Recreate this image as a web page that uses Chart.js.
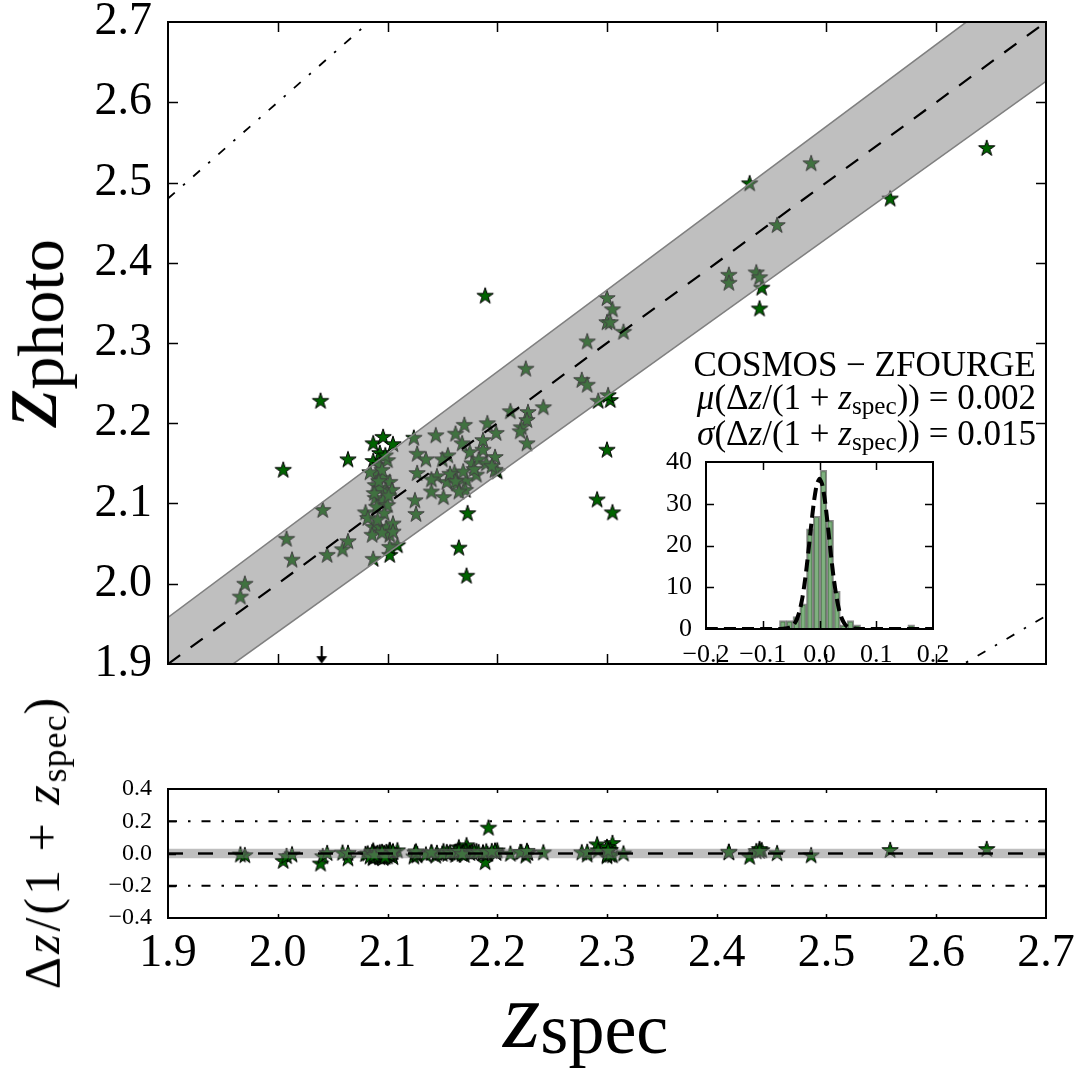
<!DOCTYPE html>
<html>
<head>
<meta charset="utf-8">
<title>z_photo vs z_spec</title>
<script src="https://cdn.jsdelivr.net/npm/chart.js@4.4.1/dist/chart.umd.min.js"></script>
<style>
html, body { margin:0; padding:0; background:#ffffff; }
body { width:1083px; height:1075px; position:relative; overflow:hidden; }
canvas { position:absolute; }
.t { position:absolute; white-space:nowrap; color:#000; font-family:'Liberation Serif', serif; line-height:1; }
.t i { font-style:italic; }
.sub { font-size:0.72em; position:relative; top:0.2em; }
.rot { transform: translate(-50%, -50%) rotate(-90deg); }
</style>
</head>
<body>
<canvas id="mainChart" width="1083" height="680" style="left:0;top:0"></canvas>
<canvas id="resChart" width="1083" height="315" style="left:0;top:760px"></canvas>
<canvas id="histChart" width="310" height="235" style="left:640px;top:440px"></canvas>

<div class="t rot" style="left:24px;top:333px;font-size:96px"><i>z</i><span class="sub" style="font-size:66px;top:0.1em">photo</span></div>
<div class="t rot" style="left:42px;top:842px;font-size:50px;letter-spacing:3px">Δ<i>z</i>/(1 + <i>z</i><span class="sub" style="letter-spacing:1px">spec</span>)</div>
<div class="t" style="left:503px;top:967px;font-size:96px"><i>z</i><span class="sub" style="font-size:72px;top:0.08em">spec</span></div>

<div class="t" style="right:47px;top:348px;font-size:35px;line-height:33px;text-align:right">
COSMOS − ZFOURGE<br>
<i>μ</i>(Δ<i>z</i>/(1 + <i>z</i><span class="sub">spec</span>)) = 0.002<br>
<i>σ</i>(Δ<i>z</i>/(1 + <i>z</i><span class="sub">spec</span>)) = 0.015
</div>

<script>
// ---------------- data ----------------
const zSpec = [
  2.005, 2.039, 2.064, 2.087, 2.096, 2.105, 2.087, 2.093, 2.189, 2.173,
  2.165, 2.172, 2.291, 2.305, 2.300, 2.292, 2.303, 2.430, 2.441, 2.439,
  2.558, 2.646, 2.109, 2.102, 2.087, 2.200, 1.970, 1.966, 2.008, 2.013,
  2.041, 2.045, 2.059, 2.064, 2.124, 2.144, 2.162, 2.170, 2.191, 2.199,
  2.127, 2.127, 2.145, 2.155, 2.161, 2.154, 2.163, 2.175, 2.177, 2.172,
  2.181, 2.187, 2.187, 2.198, 2.198, 2.171, 2.125, 2.126, 2.151, 2.093,
  2.100, 2.090, 2.096, 2.102, 2.089, 2.098, 2.104, 2.089, 2.096, 2.100,
  2.090, 2.080, 2.082, 2.087, 2.093, 2.099, 2.086, 2.102, 2.102, 2.084,
  2.093, 2.095, 2.092, 2.101, 2.097, 2.091, 2.105, 2.095, 2.098, 2.088,
  2.105, 2.226, 2.282, 2.277, 2.282, 2.242, 2.212, 2.228, 2.227, 2.222,
  2.221, 2.227, 2.300, 2.305, 2.300, 2.303, 2.315, 2.301, 2.411, 2.411,
  2.436, 2.439, 2.486, 2.455, 2.150, 2.157, 2.162, 2.169, 2.179, 2.183,
  2.190, 2.165, 2.140, 2.135, 2.168, 2.195, 2.140, 2.192
];
const zPhoto = [
  2.142, 2.228, 2.155, 2.175, 2.183, 2.174, 2.153, 2.163, 2.359, 2.088,
  2.045, 2.010, 2.105, 2.089, 2.167, 2.228, 2.229, 2.499, 2.369, 2.343,
  2.480, 2.543, 2.048, 2.036, 2.031, 2.140, 2.000, 1.984, 2.056, 2.030,
  2.092, 2.036, 2.043, 2.053, 2.182, 2.185, 2.187, 2.198, 2.200, 2.188,
  2.162, 2.138, 2.134, 2.160, 2.139, 2.127, 2.125, 2.164, 2.150, 2.129,
  2.136, 2.167, 2.179, 2.158, 2.142, 2.117, 2.104, 2.087, 2.108, 2.148,
  2.154, 2.136, 2.132, 2.127, 2.123, 2.117, 2.117, 2.107, 2.104, 2.098,
  2.096, 2.089, 2.082, 2.071, 2.071, 2.070, 2.061, 2.061, 2.046, 2.139,
  2.119, 2.142, 2.128, 2.110, 2.088, 2.080, 2.075, 2.064, 2.160, 2.113,
  2.065, 2.268, 2.302, 2.254, 2.248, 2.220, 2.215, 2.214, 2.204, 2.195,
  2.190, 2.175, 2.356, 2.342, 2.326, 2.326, 2.314, 2.235, 2.385, 2.375,
  2.388, 2.382, 2.524, 2.447, 2.155, 2.137, 2.128, 2.140, 2.143, 2.155,
  2.150, 2.115, 2.130, 2.155, 2.175, 2.147, 2.115, 1.680
];
const upperLimitX = [2.04];
const upperLimitY = [1.911];

const histBinCenters = [-0.0646, -0.0527, -0.0408, -0.0289, -0.0170, -0.0051, 0.0069, 0.0188, 0.0307, 0.0426,
                        0.0545, 0.0664, 0.0783, 0.0902, 0.1021, 0.1140, 0.1259, 0.1378, 0.1497, 0.1616];
const histCounts = [2, 2, 3, 6, 24, 27, 38, 26, 9, 1, 2, 1, 0, 0, 0, 0, 0, 0, 0, 1];

const fitCurveX = [-0.2, -0.07, -0.06, -0.05, -0.045, -0.04, -0.035, -0.03, -0.025, -0.02, -0.015, -0.01, -0.005, 0,
                   0.005, 0.01, 0.015, 0.02, 0.025, 0.03, 0.035, 0.04, 0.045, 0.05, 0.06, 0.07, 0.2];
const fitCurveY = [0, 0, 0.1, 0.5, 1.1, 2.3, 4.3, 7.6, 12.2, 18.0, 24.4, 30.3, 34.5, 36,
                   34.5, 30.3, 24.4, 18.0, 12.2, 7.6, 4.3, 2.3, 1.1, 0.5, 0.1, 0, 0];

const axisRange = [1.9, 2.7];
const mainTicks = ['1.9', '2.0', '2.1', '2.2', '2.3', '2.4', '2.5', '2.6', '2.7'];
const bandFraction = 0.02;      // shaded band: |dz| < 0.02 (1+z)
const outlierFraction = 0.2;    // dash-dot lines: |dz| = 0.2 (1+z)
const residBand = 0.03;
const residLimits = [0.2, -0.2];

// ---------------- helpers ----------------
Chart.defaults.font.family = "'Liberation Serif', serif";
Chart.defaults.color = '#000';

function makeStar(R, fill, stroke, lw) {
  const s = Math.ceil(2 * R + 2 * lw + 2);
  const c = document.createElement('canvas');
  c.width = s; c.height = s;
  const g = c.getContext('2d');
  const cx = s / 2, cy = s / 2 + 0.5, r = R * 0.382;
  g.beginPath();
  for (let i = 0; i < 10; i++) {
    const a = -Math.PI / 2 + i * Math.PI / 5;
    const rr = (i % 2) ? r : R;
    g.lineTo(cx + rr * Math.cos(a), cy + rr * Math.sin(a));
  }
  g.closePath();
  g.fillStyle = fill; g.fill();
  g.lineWidth = lw; g.strokeStyle = stroke; g.lineJoin = 'miter'; g.stroke();
  return c;
}
function makeArrow() {
  const c = document.createElement('canvas');
  c.width = 14; c.height = 18;
  const g = c.getContext('2d');
  g.strokeStyle = '#000'; g.fillStyle = '#000'; g.lineWidth = 2.2;
  g.beginPath(); g.moveTo(7, 0); g.lineTo(7, 12); g.stroke();
  g.beginPath(); g.moveTo(1.5, 10); g.lineTo(12.5, 10); g.lineTo(7, 17.5); g.closePath(); g.fill();
  return c;
}
const starImg = makeStar(8.6, '#006400', '#000000', 1);
const arrowImg = makeArrow();

const frameTicks = {
  id: 'frameTicks',
  beforeDatasetsDraw(chart, args, o) {
    if (!o.bg) return;
    const a = chart.chartArea, ctx = chart.ctx;
    ctx.save(); ctx.fillStyle = o.bg;
    ctx.fillRect(a.left, a.top, a.right - a.left, a.bottom - a.top);
    ctx.restore();
  },
  afterDraw(chart, args, o) {
    const a = chart.chartArea, ctx = chart.ctx;
    const xs = chart.scales.x, ys = chart.scales.y;
    ctx.save();
    ctx.strokeStyle = '#000';
    ctx.lineWidth = o.tickWidth || 1.5;
    ctx.beginPath();
    xs.ticks.forEach(t => {
      const p = Math.round(xs.getPixelForValue(t.value)) + 0.5;
      if (p <= a.left + 2 || p >= a.right - 2) return;
      ctx.moveTo(p, a.bottom); ctx.lineTo(p, a.bottom - o.xLen);
      ctx.moveTo(p, a.top); ctx.lineTo(p, a.top + o.xLen);
    });
    ys.ticks.forEach(t => {
      const p = Math.round(ys.getPixelForValue(t.value)) + 0.5;
      if (p <= a.top + 2 || p >= a.bottom - 2) return;
      ctx.moveTo(a.left, p); ctx.lineTo(a.left + o.yLen, p);
      ctx.moveTo(a.right, p); ctx.lineTo(a.right - o.yLen, p);
    });
    ctx.stroke();
    ctx.lineWidth = o.frameWidth || 2;
    ctx.strokeRect(a.left, a.top, a.right - a.left, a.bottom - a.top);
    ctx.restore();
  }
};

const fmt = v => (Math.abs(v) < 1e-9 ? 0 : v).toFixed(1).replace('-', '\u2212');

// ---------------- main panel ----------------
const galaxyPts = zSpec.map((z, i) => ({ x: z, y: zPhoto[i] }));
const lineLine = (f) => axisRange.map(x => ({ x: x, y: f(x) }));
const dashDot = [9, 11, 2.5, 11];

new Chart(document.getElementById('mainChart'), {
  type: 'line',
  data: {
    datasets: [
      { label: 'galaxies', data: galaxyPts, showLine: false, pointStyle: starImg, pointRadius: 8, order: 3 },
      { label: 'band upper', data: lineLine(x => x + bandFraction * (1 + x)), borderColor: '#808080', borderWidth: 1.6,
        pointRadius: 0, fill: false, order: 2 },
      { label: 'band lower', data: lineLine(x => x - bandFraction * (1 + x)), borderColor: '#808080', borderWidth: 1.6,
        pointRadius: 0, fill: '-1', backgroundColor: 'rgba(128,128,128,0.5)', order: 2 },
      { label: 'one-to-one', data: lineLine(x => x), borderColor: '#000', borderWidth: 2.2, borderDash: [15, 13],
        pointRadius: 0, fill: false, order: 1 },
      { label: 'outlier upper', data: lineLine(x => x + outlierFraction * (1 + x)), borderColor: '#000', borderWidth: 1.8,
        borderDash: dashDot, pointRadius: 0, fill: false, order: 1 },
      { label: 'outlier lower', data: lineLine(x => x - outlierFraction * (1 + x)), borderColor: '#000', borderWidth: 1.8,
        borderDash: dashDot, pointRadius: 0, fill: false, order: 1 },
      { label: 'upper limit', data: upperLimitX.map((x, i) => ({ x: x, y: upperLimitY[i] })), showLine: false,
        pointStyle: arrowImg, pointRadius: 8, clip: false, order: 0 }
    ]
  },
  options: {
    responsive: false, animation: false, events: [],
    layout: { padding: { left: 0, right: 37, top: 22, bottom: 0 } },
    plugins: { legend: { display: false }, tooltip: { enabled: false },
      frameTicks: { xLen: 10, yLen: 10, tickWidth: 1.5, frameWidth: 2 } },
    scales: {
      x: { type: 'linear', min: axisRange[0], max: axisRange[1],
        ticks: { display: false, stepSize: 0.1 }, grid: { display: false }, border: { display: false },
        afterFit(s) { s.height = 16; s.paddingLeft = 0; s.paddingRight = 0; } },
      y: { type: 'linear', min: axisRange[0], max: axisRange[1],
        ticks: { stepSize: 0.1, padding: 8, font: { size: 46 }, callback: (v, i) => mainTicks[i] !== undefined ? fmt(v) : '' },
        grid: { display: false }, border: { display: false },
        afterFit(s) { s.width = 168; s.paddingTop = 0; s.paddingBottom = 0; } }
    }
  },
  plugins: [frameTicks]
});

// ---------------- residual panel ----------------
const residPts = zSpec.map((z, i) => ({ x: z, y: (z - zPhoto[i]) / (1 + z) }));
const flat = (v) => axisRange.map(x => ({ x: x, y: v }));

new Chart(document.getElementById('resChart'), {
  type: 'line',
  data: {
    datasets: [
      { label: 'residuals', data: residPts, showLine: false, pointStyle: starImg, pointRadius: 8, order: 3 },
      { label: 'band upper', data: flat(residBand), borderWidth: 0, borderColor: 'rgba(0,0,0,0)', pointRadius: 0, fill: false, order: 2 },
      { label: 'band lower', data: flat(-residBand), borderWidth: 0, borderColor: 'rgba(0,0,0,0)', pointRadius: 0,
        fill: '-1', backgroundColor: 'rgba(128,128,128,0.5)', order: 2 },
      { label: 'zero', data: flat(0), borderColor: '#000', borderWidth: 2.4, borderDash: [15, 15], pointRadius: 0, fill: false, order: 1 },
      { label: 'limit +', data: flat(residLimits[0]), borderColor: '#000', borderWidth: 1.8, borderDash: dashDot,
        pointRadius: 0, fill: false, order: 1 },
      { label: 'limit -', data: flat(residLimits[1]), borderColor: '#000', borderWidth: 1.8, borderDash: dashDot,
        pointRadius: 0, fill: false, order: 1 }
    ]
  },
  options: {
    responsive: false, animation: false, events: [],
    layout: { padding: { left: 0, right: 37, top: 29, bottom: 0 } },
    plugins: { legend: { display: false }, tooltip: { enabled: false },
      frameTicks: { xLen: 4, yLen: 8, tickWidth: 1.5, frameWidth: 2 } },
    scales: {
      x: { type: 'linear', min: axisRange[0], max: axisRange[1],
        ticks: { stepSize: 0.1, padding: 0, font: { size: 46 }, maxRotation: 0, callback: (v) => fmt(v) },
        grid: { display: false }, border: { display: false },
        afterFit(s) { s.height = 157; s.paddingLeft = 0; s.paddingRight = 0; } },
      y: { type: 'linear', min: -0.4, max: 0.4,
        ticks: { stepSize: 0.2, padding: 8, font: { size: 24 }, callback: (v) => fmt(v) },
        grid: { display: false }, border: { display: false },
        afterFit(s) { s.width = 168; s.paddingTop = 0; s.paddingBottom = 0; } }
    }
  },
  plugins: [frameTicks]
});

// ---------------- inset histogram ----------------
new Chart(document.getElementById('histChart'), {
  type: 'bar',
  data: {
    datasets: [
      { type: 'line', label: 'gaussian fit', data: fitCurveX.map((x, i) => ({ x: x, y: fitCurveY[i] })),
        borderColor: '#000', borderWidth: 4, borderDash: [12, 6], pointRadius: 0, fill: false, tension: 0.2, order: 0 },
      { type: 'bar', label: 'histogram', data: histBinCenters.map((x, i) => ({ x: x, y: histCounts[i] })),
        backgroundColor: 'rgba(0,100,0,0.5)', borderColor: 'rgba(0,0,0,0.45)', borderWidth: 1.5,
        barPercentage: 1, categoryPercentage: 1, order: 1 }
    ]
  },
  options: {
    responsive: false, animation: false, events: [],
    layout: { padding: { left: 0, right: 17, top: 22, bottom: 0 } },
    plugins: { legend: { display: false }, tooltip: { enabled: false },
      frameTicks: { xLen: 8, yLen: 8, tickWidth: 1.5, frameWidth: 2, bg: '#ffffff' } },
    scales: {
      x: { type: 'linear', min: -0.2, max: 0.2, offset: false,
        ticks: { stepSize: 0.1, padding: 3, font: { size: 26 }, maxRotation: 0, callback: (v) => fmt(v) },
        grid: { display: false, offset: false }, border: { display: false },
        afterFit(s) { s.height = 46; s.paddingLeft = 0; s.paddingRight = 0; } },
      y: { type: 'linear', min: 0, max: 40,
        ticks: { stepSize: 10, padding: 6, font: { size: 26 } },
        grid: { display: false }, border: { display: false },
        afterFit(s) { s.width = 66; s.paddingTop = 0; s.paddingBottom = 0; } }
    }
  },
  plugins: [frameTicks]
});
</script>
</body>
</html>
